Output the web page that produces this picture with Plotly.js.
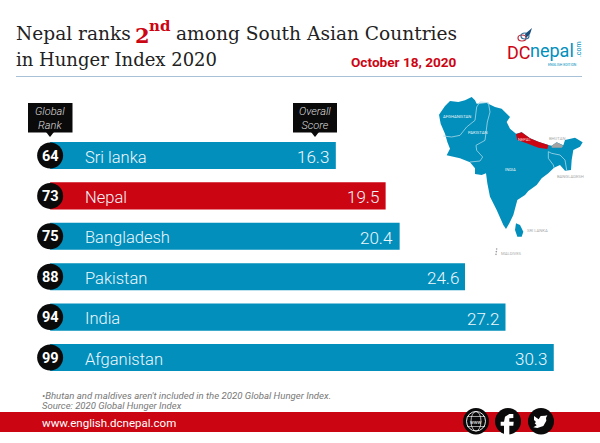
<!DOCTYPE html>
<html><head><meta charset="utf-8">
<script src="https://cdn.plot.ly/plotly-3.0.1.min.js"></script>
<style>html,body{margin:0;padding:0;background:#fff}#c{width:600px;height:443px}</style>
</head><body><div id="c"></div>
<script>
// Chart data
const countries = ['Sri lanka','Nepal','Bangladesh','Pakistan','India','Afganistan'];
const scores = [16.3,19.5,20.4,24.6,27.2,30.3];
const ranks = [64,73,75,88,94,99];
const barColors = ['#028fbb','#cc0513','#028fbb','#028fbb','#028fbb','#028fbb'];

// Decoration outlines in reference-crop pixels
const mapOutline = [[87,89],[105,63],[120,48],[145,51],[165,46],[185,36],[195,46],[200,56],[230,54],[255,66],[275,71],[300,96],[290,111],[300,131],[318,146],[335,142],[360,160],[385,170],[415,180],[425,182],[440,172],[460,181],[465,165],[495,158],[518,172],[510,185],[490,195],[485,225],[483,255],[465,257],[450,240],[432,248],[415,265],[395,280],[380,300],[355,318],[345,330],[322,345],[310,390],[298,415],[288,432],[280,420],[260,375],[240,335],[232,295],[228,265],[215,270],[195,267],[195,250],[180,232],[150,220],[110,211],[120,191],[112,171],[105,146],[92,116]];
const lanka = [[318,415],[330,420],[340,440],[335,455],[322,455],[315,435]];
const nepalArea = [[318,148],[335,142],[360,160],[385,170],[415,180],[412,192],[385,188],[350,175],[322,165]];
const bhutanArea = [[425,182],[440,172],[460,182],[455,188],[425,188]];
const borders = [
 [[100,153],[125,156],[150,151],[170,126],[195,106],[200,66],[210,51],[235,53]],
 [[235,53],[240,81],[232,111],[225,166],[198,181],[200,196],[218,216],[210,228],[180,231]],
 [[415,200],[425,205],[450,210],[465,225],[470,255]],
 [[415,200],[415,220],[430,240],[432,248]]
];
const fbGlyph = [[190,42],[178,42],[165,50],[162,65],[152,65],[152,77],[162,77],[162,105],[178,105],[178,77],[190,77],[191,65],[178,65],[178,55],[190,54]];
const birdGlyph = [[252,48],[266,58],[272,48],[285,47],[292,46],[288,54],[289,62],[280,78],[262,84],[250,82],[260,76],[254,70],[258,66],[252,60]];

const W=600,H=443;
const px=x=>x/W, py=y=>1-y/H;
const mx=x=>410+x/3, my=y=>85+y/3;
const ix=x=>450+x/3, iy=y=>400+y/3;
function tracePath(pts,fx,fy,close){return pts.map((p,i)=>(i?'L':'M')+px(fx(p[0]))+','+py(fy(p[1]))).join(' ')+(close?' Z':'');}
const poly=(pts,close)=>tracePath(pts,mx,my,close);
const same=v=>v;
const shapes=[];
const P=(path,fill,line,w)=>shapes.push({type:'path',xref:'paper',yref:'paper',path,fillcolor:fill,line:{color:line||fill,width:w||0},layer:'above'});
const R=(x0,y0,x1,y1,fill)=>shapes.push({type:'rect',xref:'paper',yref:'paper',x0:px(x0),x1:px(x1),y0:py(y0),y1:py(y1),fillcolor:fill,line:{width:0},layer:'above'});
const C=(x0,y0,x1,y1,fill,lc,lw)=>shapes.push({type:'circle',xref:'paper',yref:'paper',x0:px(x0),x1:px(x1),y0:py(y0),y1:py(y1),fillcolor:fill,line:{color:lc||fill,width:lw||0},layer:'above'});
const NONE='rgba(0,0,0,0)';

// header rule
R(16,76,582,77,'#a9c1d6');
// footer band
R(0,412,600,432,'#cc0513');
// callouts
R(28,103,72.5,132.5,'#0a0a0a');
P(tracePath([[46,132],[54,132],[50,137]],same,same,true),'#0a0a0a');
R(293,103,337,132.5,'#0a0a0a');
P(tracePath([[311,132],[319,132],[315,137]],same,same,true),'#0a0a0a');
// map
P(poly(mapOutline,true),'#028fbb');
P(poly(lanka,true),'#028fbb');
P(poly(nepalArea,true),'#cc0513');
P(poly(bhutanArea,true),'#a3a3a3');
borders.forEach(b=>P(poly(b,false),NONE,'#a8d8e8',0.8));
[[260,492],[259,500],[258,508]].forEach(p=>C(mx(p[0])-0.8,my(p[1])-0.8,mx(p[0])+0.8,my(p[1])+0.8,'#999'));
// logo flourish
C(518,35,526,41,NONE,'#c0283a',1.2);
C(521,33,529,39,NONE,'#2a6f97',1.2);
P(tracePath([[525,34],[532,28],[530,34],[526,38]],same,same,true),'#1b4f7a');
// social icons
C(463,408,489,434.5,'#0a0a0a');
C(495,408,521,434.5,'#0a0a0a');
C(528,408,554,434.5,'#0a0a0a');
C(466.5,411.5,485.5,431,NONE,'#fff',0.9);
C(471,411.5,481,431,NONE,'#fff',0.7);
P(tracePath([[467,416.5],[485,416.5]],same,same,false),NONE,'#fff',0.6);
P(tracePath([[467,426.5],[485,426.5]],same,same,false),NONE,'#fff',0.6);
P(tracePath(fbGlyph,ix,iy,true),'#fff');
P(tracePath(birdGlyph,ix,iy,true),'#fff');

const ann=[];
const T=(x,y,text,size,color,family,anchor,extra)=>ann.push(Object.assign({xref:'paper',yref:'paper',x:px(x),y:py(y),text,showarrow:false,xanchor:anchor||'left',yanchor:'middle',align:anchor||'left',font:{size,color,family}},extra||{}));

const serif='"DejaVu Serif",serif', rob='Roboto,sans-serif', narrow='"Liberation Sans Narrow",Roboto,sans-serif';
T(14,34,'Nepal ranks',18.6,'#222',serif);
T(132.5,35,'<b>2</b>',21,'#cc0513',serif);
T(147,26,'<b>nd</b>',15,'#cc0513',serif);
T(173.5,34,'among South Asian Countries',18.6,'#222',serif);
T(14,60,'in Hunger Index 2020',18,'#222',serif);
T(459,62,'<b>October 18, 2020</b>',13.6,'#cc0513',rob,'right');
T(505,52.5,'DC',18,'#cc0513',narrow);
T(528,51,'nepal',18,'#028fbb',rob);
T(579,49,'.com',7,'#028fbb',rob,'center',{textangle:-90});
T(562,65,'ENGLISH EDITION',3.5,'#028fbb',rob,'center');
T(50,118,'<i>Global<br>Rank</i>',11,'#ddd',rob,'center',{font:{size:11,color:'#ddd',family:rob,weight:300}});
T(315,118,'<i>Overall<br>Score</i>',11,'#ddd',rob,'center',{font:{size:11,color:'#ddd',family:rob,weight:300}});
T(40,395,'<i>•Bhutan and maldives aren\'t included in the 2020 Global Hunger Index.</i>',9.6,'#777',rob);
T(40,405,'<i>Source: 2020 Global Hunger Index</i>',9.5,'#777',rob);
T(40,423,'www.english.dcnepal.com',11.5,'#fff',rob);
T(476,421.5,'www',5,'#fff',rob,'center');
// map labels
const ml=(x,y,t,c)=>T(mx(x),my(y),t,4.2,c,rob,'center');
ml(140,95,'AFGHANISTAN','#e6f4f9');ml(203,143,'PAKISTAN','#e6f4f9');ml(300,254,'INDIA','#e6f4f9');ml(342,163,'NEPAL','#f8d0d0');
ml(442,159,'BHUTAN','#aaa');ml(480,275,'BANGLADESH','#aaa');ml(382,437,'SRI LANKA','#aaa');ml(304,504,'MALDIVES','#aaa');

const barBase=-2.05;
// names, scores and ranks, placed through the chart's own axes
const barFont={family:rob,size:16.5,color:'#eef7fb',weight:300};
countries.forEach((c,i)=>{
 ann.push({xref:'x',yref:'y',x:0.05,y:i,text:c,showarrow:false,xanchor:'left',yanchor:'middle',yshift:-1.5,font:barFont});
 ann.push({xref:'x',yref:'y',x:scores[i],y:i,text:scores[i].toFixed(1),showarrow:false,xanchor:'right',yanchor:'middle',xshift:-4.5,yshift:-1.5,font:Object.assign({},barFont,{size:17})});
 ann.push({xref:'x',yref:'y',x:barBase,y:i,text:String(ranks[i]),showarrow:false,xanchor:'center',yanchor:'middle',yshift:-0.5,font:{family:rob,size:14.5,color:'#fff',weight:700}});
});

const bars={type:'bar',orientation:'h',y:countries,x:scores.map(v=>v-barBase),base:barBase,
 marker:{color:barColors,line:{width:0}},hoverinfo:'skip',cliponaxis:false};
const circles={type:'scatter',mode:'markers',y:countries,x:countries.map(()=>barBase),
 marker:{size:26,color:'#0a0a0a'},hoverinfo:'skip'};

const plotTop=135.3,plotBot=377.7;
Plotly.newPlot('c',[bars,circles],{
 width:W,height:H,margin:{l:0,r:0,t:0,b:0},showlegend:false,paper_bgcolor:'#fff',plot_bgcolor:'rgba(0,0,0,0)',
 bargap:0.33,
 xaxis:{range:[-5.27,33.27],domain:[0,1],visible:false,fixedrange:true},
 yaxis:{autorange:false,range:[5.5,-0.5],type:'category',categoryorder:'array',categoryarray:countries,domain:[1-plotBot/H,1-plotTop/H],visible:false,fixedrange:true},
 shapes,annotations:ann
},{displayModeBar:false,staticPlot:true});
</script></body></html>
